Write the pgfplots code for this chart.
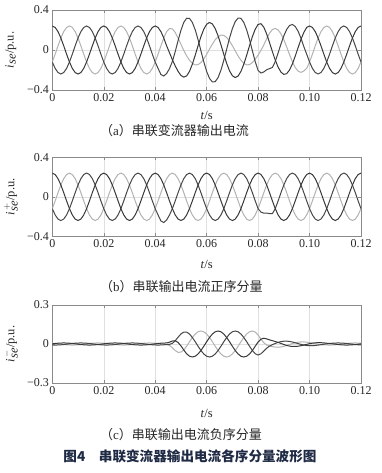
\documentclass[border=0pt]{standalone}
\usepackage{pgfplots}
\pgfplotsset{compat=1.18}
\usepackage{pgfplotstable}
\usepackage{fontspec}
\setmainfont{Liberation Serif}
\newfontfamily\cjk{Noto Sans CJK SC}
\definecolor{darkA}{HTML}{383838}
\definecolor{darkB}{HTML}{474747}
\definecolor{lightG}{HTML}{B2B2B2}
\definecolor{framec}{HTML}{8A8A8A}
\definecolor{capc}{HTML}{1F2A44}

\pgfplotstableread{
t aA aG aB bA bG bB cA cG cB
0 0.24 -0.12 -0.12 0.24 -0.12 -0.12 0.0014 0.0061 -0.0075
0.00111 0.2255 -0.0417 -0.1838 0.2255 -0.0417 -0.1838 0.004 0.004 -0.008
0.00222 0.1838 0.0417 -0.2255 0.1838 0.0417 -0.2255 0.0061 0.0014 -0.0075
0.00333 0.12 0.12 -0.24 0.12 0.12 -0.24 0.0075 -0.0014 -0.0061
0.00444 0.0417 0.1838 -0.2255 0.0417 0.1838 -0.2255 0.008 -0.004 -0.004
0.00556 -0.0417 0.2255 -0.1838 -0.0417 0.2255 -0.1838 0.0075 -0.0061 -0.0014
0.00667 -0.12 0.24 -0.12 -0.12 0.24 -0.12 0.0061 -0.0075 0.0014
0.00778 -0.1838 0.2255 -0.0417 -0.1838 0.2255 -0.0417 0.004 -0.008 0.004
0.00889 -0.2255 0.1838 0.0417 -0.2255 0.1838 0.0417 0.0014 -0.0075 0.0061
0.01 -0.24 0.12 0.12 -0.24 0.12 0.12 -0.0014 -0.0061 0.0075
0.01111 -0.2255 0.0417 0.1838 -0.2255 0.0417 0.1838 -0.004 -0.004 0.008
0.01222 -0.1838 -0.0417 0.2255 -0.1838 -0.0417 0.2255 -0.0061 -0.0014 0.0075
0.01333 -0.12 -0.12 0.24 -0.12 -0.12 0.24 -0.0075 0.0014 0.0061
0.01444 -0.0417 -0.1838 0.2255 -0.0417 -0.1838 0.2255 -0.008 0.004 0.004
0.01556 0.0417 -0.2255 0.1838 0.0417 -0.2255 0.1838 -0.0075 0.0061 0.0014
0.01667 0.12 -0.24 0.12 0.12 -0.24 0.12 -0.0061 0.0075 -0.0014
0.01778 0.1838 -0.2255 0.0417 0.1838 -0.2255 0.0417 -0.004 0.008 -0.004
0.01889 0.2255 -0.1838 -0.0417 0.2255 -0.1838 -0.0417 -0.0014 0.0075 -0.0061
0.02 0.24 -0.12 -0.12 0.24 -0.12 -0.12 0.0014 0.0061 -0.0075
0.02111 0.2255 -0.0417 -0.1838 0.2255 -0.0417 -0.1838 0.004 0.004 -0.008
0.02222 0.1838 0.0417 -0.2255 0.1838 0.0417 -0.2255 0.0061 0.0014 -0.0075
0.02333 0.12 0.12 -0.24 0.12 0.12 -0.24 0.0075 -0.0014 -0.0061
0.02444 0.0417 0.1838 -0.2255 0.0417 0.1838 -0.2255 0.008 -0.004 -0.004
0.02556 -0.0417 0.2255 -0.1838 -0.0417 0.2255 -0.1838 0.0075 -0.0061 -0.0014
0.02667 -0.12 0.24 -0.12 -0.12 0.24 -0.12 0.0061 -0.0075 0.0014
0.02778 -0.1838 0.2255 -0.0417 -0.1838 0.2255 -0.0417 0.004 -0.008 0.004
0.02889 -0.2255 0.1838 0.0417 -0.2255 0.1838 0.0417 0.0014 -0.0075 0.0061
0.03 -0.24 0.12 0.12 -0.24 0.12 0.12 -0.0014 -0.0061 0.0075
0.03111 -0.2255 0.0417 0.1838 -0.2255 0.0417 0.1838 -0.004 -0.004 0.008
0.03222 -0.1838 -0.0417 0.2255 -0.1838 -0.0417 0.2255 -0.0061 -0.0014 0.0075
0.03333 -0.12 -0.12 0.24 -0.12 -0.12 0.24 -0.0075 0.0014 0.0061
0.03444 -0.0417 -0.1838 0.2255 -0.0417 -0.1838 0.2255 -0.008 0.004 0.004
0.03556 0.0417 -0.2255 0.1838 0.0417 -0.2255 0.1838 -0.0075 0.0061 0.0014
0.03667 0.12 -0.24 0.12 0.12 -0.24 0.12 -0.0061 0.0075 -0.0014
0.03778 0.1838 -0.2255 0.0417 0.1838 -0.2255 0.0417 -0.004 0.008 -0.004
0.03889 0.2255 -0.1838 -0.0417 0.2255 -0.1838 -0.0417 -0.0014 0.0075 -0.0061
0.04 0.24 -0.12 -0.12 0.24 -0.12 -0.12 0.0014 0.0061 -0.0075
0.04111 0.2255 -0.0417 -0.1838 0.2255 -0.0417 -0.1838 0.004 0.004 -0.008
0.04222 0.1838 0.0417 -0.245 0.1838 0.0417 -0.245 0.0061 0.0014 -0.0075
0.04333 0.12 0.12 -0.26 0.12 0.12 -0.26 0.0075 -0.0014 -0.0061
0.04444 0.0417 0.1838 -0.235 0.0417 0.1838 -0.235 0.008 -0.004 -0.004
0.04556 -0.0276 0.214 -0.1864 -0.0417 0.2255 -0.1838 0.0141 -0.0115 -0.0026
0.04667 -0.097 0.2118 -0.1148 -0.12 0.24 -0.12 0.023 -0.0282 0.0052
0.04778 -0.1588 0.1755 -0.0167 -0.1838 0.2255 -0.0417 0.025 -0.05 0.025
0.04889 -0.2137 0.1199 0.0938 -0.2255 0.1838 0.0417 0.0118 -0.0639 0.0521
0.05 -0.2542 0.0572 0.1971 -0.24 0.12 0.12 -0.0142 -0.0628 0.0771
0.05111 -0.2715 -0.0043 0.2758 -0.2255 0.0417 0.1838 -0.046 -0.046 0.092
0.05222 -0.2589 -0.0587 0.3176 -0.1838 -0.0417 0.2255 -0.0751 -0.017 0.0921
0.05333 -0.214 -0.1026 0.3166 -0.12 -0.12 0.24 -0.094 0.0174 0.0766
0.05444 -0.1417 -0.1338 0.2755 -0.0417 -0.1838 0.2255 -0.1 0.05 0.05
0.05556 -0.0523 -0.1489 0.2012 0.0417 -0.2255 0.1838 -0.094 0.0766 0.0174
0.05667 0.0434 -0.146 0.1026 0.12 -0.24 0.12 -0.0766 0.094 -0.0174
0.05778 0.1338 -0.1255 -0.0083 0.1838 -0.2255 0.0417 -0.05 0.1 -0.05
0.05889 0.2081 -0.0898 -0.1183 0.2255 -0.1838 -0.0417 -0.0174 0.094 -0.0766
0.06 0.2574 -0.0434 -0.214 0.24 -0.12 -0.12 0.0174 0.0766 -0.094
0.06111 0.2755 0.0083 -0.2838 0.2255 -0.0417 -0.1838 0.05 0.05 -0.1
0.06222 0.2604 0.0591 -0.3195 0.1838 0.0417 -0.2255 0.0766 0.0174 -0.094
0.06333 0.214 0.1026 -0.3166 0.12 0.12 -0.24 0.094 -0.0174 -0.0766
0.06444 0.1417 0.1338 -0.2755 0.0417 0.1838 -0.2255 0.1 -0.05 -0.05
0.06556 0.0523 0.1489 -0.2012 -0.0417 0.2255 -0.1838 0.094 -0.0766 -0.0174
0.06667 -0.0434 0.146 -0.1026 -0.12 0.24 -0.12 0.0766 -0.094 0.0174
0.06778 -0.1338 0.1255 0.0083 -0.1838 0.2255 -0.0417 0.05 -0.1 0.05
0.06889 -0.2081 0.0898 0.1183 -0.2255 0.1838 0.0417 0.0174 -0.094 0.0766
0.07 -0.2574 0.0434 0.214 -0.24 0.12 0.12 -0.0174 -0.0766 0.094
0.07111 -0.2755 -0.0083 0.2838 -0.2255 0.0417 0.1838 -0.05 -0.05 0.1
0.07222 -0.2604 -0.0591 0.3195 -0.1838 -0.0417 0.2255 -0.0766 -0.0174 0.094
0.07333 -0.214 -0.1026 0.3166 -0.12 -0.12 0.24 -0.094 0.0174 0.0766
0.07444 -0.1417 -0.1338 0.2755 -0.0417 -0.1838 0.2255 -0.1 0.05 0.05
0.07556 -0.0523 -0.1489 0.2012 0.0417 -0.2255 0.1838 -0.094 0.0766 0.0174
0.07667 0.0434 -0.146 0.1026 0.12 -0.24 0.12 -0.0766 0.094 -0.0174
0.07778 0.1338 -0.1255 -0.0083 0.1838 -0.2255 0.0417 -0.05 0.1 -0.05
0.07889 0.2085 -0.0917 -0.1168 0.2255 -0.1838 -0.0417 -0.017 0.0921 -0.0751
0.08 0.2556 -0.0511 -0.2046 0.24 -0.12 -0.12 0.0156 0.0689 -0.0846
0.08111 0.263 -0.0042 -0.23 0.2255 -0.0417 -0.155 0.0375 0.0375 -0.075
0.08222 0.2282 0.0518 -0.2195 0.1838 0.0417 -0.165 0.0444 0.0101 -0.0545
0.08333 0.1595 0.1127 -0.1972 0.12 0.12 -0.165 0.0395 -0.0073 -0.0322
0.08444 0.0737 0.1678 -0.186 0.0417 0.1838 -0.17 0.032 -0.016 -0.016
0.08556 -0.0163 0.2048 -0.1747 -0.0417 0.2255 -0.17 0.0254 -0.0207 -0.0047
0.08667 -0.1008 0.2165 -0.1157 -0.12 0.24 -0.12 0.0192 -0.0235 0.0043
0.08778 -0.1713 0.2005 -0.0292 -0.1838 0.2255 -0.0417 0.0125 -0.025 0.0125
0.08889 -0.2213 0.1612 0.0601 -0.2255 0.1838 0.0417 0.0042 -0.0226 0.0184
0.09 -0.244 0.1024 0.1416 -0.24 0.12 0.12 -0.004 -0.0176 0.0216
0.09111 -0.2365 0.0307 0.2058 -0.2255 0.0417 0.1838 -0.011 -0.011 0.022
0.09222 -0.1999 -0.0453 0.2452 -0.1838 -0.0417 0.2255 -0.0161 -0.0036 0.0197
0.09333 -0.1388 -0.1165 0.2553 -0.12 -0.12 0.24 -0.0188 0.0035 0.0153
0.09444 -0.0607 -0.1743 0.235 -0.0417 -0.1838 0.2255 -0.019 0.0095 0.0095
0.09556 0.0248 -0.2117 0.1869 0.0417 -0.2255 0.1838 -0.0169 0.0138 0.0031
0.09667 0.107 -0.224 0.117 0.12 -0.24 0.12 -0.013 0.016 -0.003
0.09778 0.1758 -0.2095 0.0337 0.1838 -0.2255 0.0417 -0.008 0.016 -0.008
0.09889 0.2255 -0.1838 -0.0417 0.2255 -0.1838 -0.0417 -0.0026 0.0141 -0.0115
0.1 0.24 -0.12 -0.12 0.24 -0.12 -0.12 0.0024 0.0107 -0.0132
0.10111 0.2255 -0.0417 -0.1838 0.2255 -0.0417 -0.1838 0.0065 0.0065 -0.013
0.10222 0.1838 0.0417 -0.2255 0.1838 0.0417 -0.2255 0.0092 0.0021 -0.0113
0.10333 0.12 0.12 -0.24 0.12 0.12 -0.24 0.0103 -0.0019 -0.0084
0.10444 0.0417 0.1838 -0.2255 0.0417 0.1838 -0.2255 0.01 -0.005 -0.005
0.10556 -0.0417 0.2255 -0.1838 -0.0417 0.2255 -0.1838 0.0085 -0.0069 -0.0016
0.10667 -0.12 0.24 -0.12 -0.12 0.24 -0.12 0.0061 -0.0075 0.0014
0.10778 -0.1838 0.2255 -0.0417 -0.1838 0.2255 -0.0417 0.004 -0.008 0.004
0.10889 -0.2255 0.1838 0.0417 -0.2255 0.1838 0.0417 0.0014 -0.0075 0.0061
0.11 -0.24 0.12 0.12 -0.24 0.12 0.12 -0.0014 -0.0061 0.0075
0.11111 -0.2255 0.0417 0.1838 -0.2255 0.0417 0.1838 -0.004 -0.004 0.008
0.11222 -0.1838 -0.0417 0.2255 -0.1838 -0.0417 0.2255 -0.0061 -0.0014 0.0075
0.11333 -0.12 -0.12 0.24 -0.12 -0.12 0.24 -0.0075 0.0014 0.0061
0.11444 -0.0417 -0.1838 0.2255 -0.0417 -0.1838 0.2255 -0.008 0.004 0.004
0.11556 0.0417 -0.2255 0.1838 0.0417 -0.2255 0.1838 -0.0075 0.0061 0.0014
0.11667 0.12 -0.24 0.12 0.12 -0.24 0.12 -0.0061 0.0075 -0.0014
0.11778 0.1838 -0.2255 0.0417 0.1838 -0.2255 0.0417 -0.004 0.008 -0.004
0.11889 0.2255 -0.1838 -0.0417 0.2255 -0.1838 -0.0417 -0.0014 0.0075 -0.0061
0.12 0.24 -0.12 -0.12 0.24 -0.12 -0.12 0.0014 0.0061 -0.0075
}\data

\pgfplotsset{
  myax/.style={
    scale only axis, width=308.7pt,
    xmin=0, xmax=0.12,
    xtick={0,0.02,0.04,0.06,0.08,0.10,0.12},
    xticklabels={0,0.02,0.04,0.06,0.08,0.10,0.12},
    tick label style={font=\fontsize{12}{12}\selectfont, color=black!85},
    axis line style={framec, line width=0.6pt},
    tick style={framec, line width=0.5pt},
    major tick length=3pt,
    grid=major, major grid style={black!12, line width=0.4pt},
    xlabel={\textit{t}/s},
    label style={font=\fontsize{12.5}{12.5}\selectfont, color=black!85},
    xlabel style={at={(axis description cs:0.5,0)}, anchor=center},
    ylabel style={at={(axis description cs:-0.134,0.5)}, anchor=center},
    every axis plot/.append style={line width=1pt, no markers},
  }
}

\begin{document}
\begin{tikzpicture}
\path[use as bounding box] (0,0) rectangle (381pt,-473pt);

\begin{axis}[myax, at={(52.3pt,-10pt)}, anchor=north west, height=80pt,
  ymin=-0.4, ymax=0.4, ytick={-0.4,0,0.4}, yticklabels={−0.4,0,0.4},
  xlabel style={yshift=-25pt},
  ylabel={$\textit{i}_{\textit{se}}$/p.u.}]
\addplot[lightG] table[x=t,y=aG]{\data};
\addplot[darkB] table[x=t,y=aB]{\data};
\addplot[darkA] table[x=t,y=aA]{\data};
\end{axis}

\begin{axis}[myax, at={(52.3pt,-157.3pt)}, anchor=north west, height=79pt,
  ymin=-0.4, ymax=0.4, ytick={-0.4,0,0.4}, yticklabels={−0.4,0,0.4},
  xlabel style={yshift=-28pt},
  ylabel={$\textit{i}_{\textit{se}}^{\,+}$/p.u.}]
\addplot[lightG] table[x=t,y=bG]{\data};
\addplot[darkB] table[x=t,y=bB]{\data};
\addplot[darkA] table[x=t,y=bA]{\data};
\end{axis}

\begin{axis}[myax, at={(52.3pt,-305pt)}, anchor=north west, height=78pt,
  ymin=-0.3, ymax=0.3, ytick={-0.3,0,0.3}, yticklabels={−0.3,0,0.3},
  xlabel style={yshift=-30pt},
  ylabel={$\textit{i}_{\textit{se}}^{\,-}$/p.u.}]
\addplot[lightG] table[x=t,y=cG]{\data};
\addplot[darkB] table[x=t,y=cB]{\data};
\addplot[darkA] table[x=t,y=cA]{\data};
\end{axis}

\node[anchor=west, font=\fontsize{13}{13}\selectfont, text=black!85, inner sep=0pt] at (100pt,-131pt) {{\cjk （}a{\cjk ）串联变流器输出电流}};
\node[anchor=west, font=\fontsize{13}{13}\selectfont, text=black!85, inner sep=0pt] at (100pt,-287pt) {{\cjk （}b{\cjk ）串联输出电流正序分量}};
\node[anchor=west, font=\fontsize{13}{13}\selectfont, text=black!85, inner sep=0pt] at (100pt,-435pt) {{\cjk （}c{\cjk ）串联输出电流负序分量}};
\node[anchor=center, font=\fontsize{13.6}{13.6}\selectfont\bfseries, text=capc, inner sep=0pt] at (190pt,-456pt) {{\cjk 图4\quad 串联变流器输出电流各序分量波形图}};
\end{tikzpicture}
\end{document}
